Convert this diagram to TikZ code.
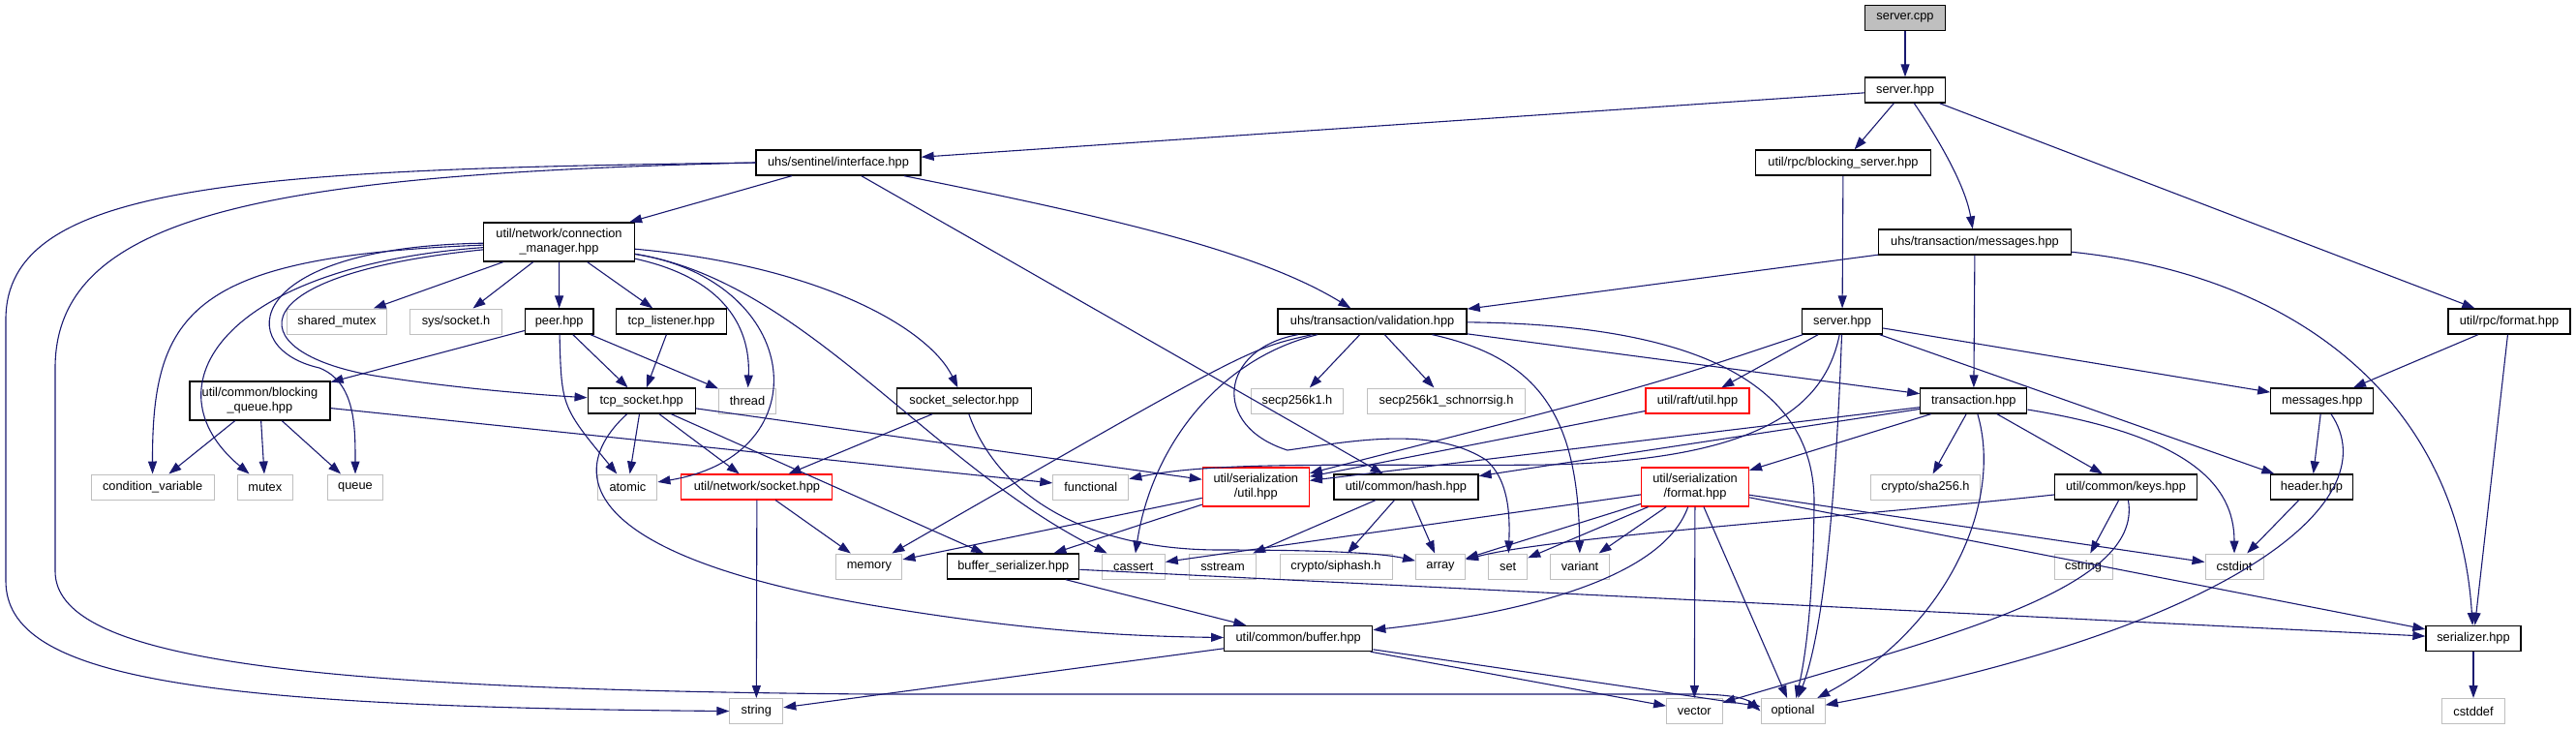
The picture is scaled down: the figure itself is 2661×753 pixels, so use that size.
\documentclass[tikz,border=0pt]{standalone}
\usepackage{fontspec}
\setmainfont{Liberation Sans}
\usepackage{xcolor}
\usetikzlibrary{calc,arrows.meta,positioning}
\definecolor{edgeBlue}{RGB}{25,25,112}
\definecolor{boxGray}{RGB}{191,191,191}
\definecolor{boxRed}{RGB}{255,0,0}
\tikzset{
  incNode/.style={draw=black,fill=white,line width=1.3pt,minimum height=26,inner sep=0pt,align=center,font=\fontsize{12.8}{15}\selectfont},
  sysNode/.style={incNode,draw=boxGray,line width=1pt},
  cutNode/.style={incNode,draw=boxRed,line width=1.1pt},
  rootNode/.style={incNode,fill=boxGray},
  twoLine/.style={minimum height=40},
  dep/.style={draw=edgeBlue,line width=1.1pt,-{Triangle[length=13pt,width=9pt]}}
}

\begin{document}
\begin{tikzpicture}[x=1pt,y=-1pt]
\useasboundingbox (0,0) rectangle (2661,753);

\node[rootNode,minimum width=83] (servercpp) at (1968,18.7) {server.cpp};
\node[incNode,minimum width=83] (serverhpp) at (1968,93) {server.hpp};
\node[incNode,minimum width=170] (iface) at (866,168) {uhs/sentinel/interface.hpp};
\node[incNode,minimum width=181] (rpcblock) at (1904,168) {util/rpc/blocking\_server.hpp};
\node[incNode,twoLine,minimum width=156] (connmgr) at (577.5,250) {util/network/connection\\\_manager.hpp};
\node[incNode,minimum width=199] (txmsg) at (2040,250) {uhs/transaction/messages.hpp};

\node[sysNode,minimum width=103] (sharedmtx) at (348,332) {shared\_mutex};
\node[sysNode,minimum width=95] (syssocket) at (471,332) {sys/socket.h};
\node[incNode,minimum width=70.5] (peer) at (577.7,332) {peer.hpp};
\node[incNode,minimum width=114] (tcplistener) at (693.5,332) {tcp\_listener.hpp};
\node[incNode,minimum width=195] (validation) at (1417.6,332) {uhs/transaction/validation.hpp};
\node[incNode,minimum width=83] (server2) at (1903,332) {server.hpp};
\node[incNode,minimum width=126] (rpcfmt) at (2592,332) {util/rpc/format.hpp};

\node[incNode,twoLine,minimum width=145] (blockqueue) at (268.4,414) {util/common/blocking\\\_queue.hpp};
\node[incNode,minimum width=111] (tcpsocket) at (662.7,414) {tcp\_socket.hpp};
\node[sysNode,minimum width=58.6] (thread) at (772,414) {thread};
\node[incNode,minimum width=139] (sockselector) at (996,414) {socket\_selector.hpp};
\node[sysNode,minimum width=95] (secp) at (1340,414) {secp256k1.h};
\node[sysNode,minimum width=162.5] (schnorr) at (1494,414) {secp256k1\_schnorrsig.h};
\node[cutNode,minimum width=107] (raft) at (1753.5,414) {util/raft/util.hpp};
\node[incNode,minimum width=110] (transaction) at (2038.8,414) {transaction.hpp};
\node[incNode,minimum width=106] (messages) at (2398.8,414) {messages.hpp};

\node[sysNode,minimum width=127] (condvar) at (157.6,503) {condition\_variable};
\node[sysNode,minimum width=57.5] (mutex) at (273.8,503) {mutex};
\node[sysNode,minimum width=57] (queue) at (367,503) {queue};
\node[sysNode,minimum width=61] (atomic) at (648.4,503) {atomic};
\node[cutNode,minimum width=156] (netsocket) at (781.9,503) {util/network/socket.hpp};
\node[sysNode,minimum width=78] (functional) at (1126.8,503) {functional};
\node[cutNode,twoLine,minimum width=110] (serutil) at (1297.3,503) {util/serialization\\/util.hpp};
\node[incNode,minimum width=149] (hash) at (1452.4,503) {util/common/hash.hpp};
\node[cutNode,twoLine,minimum width=111] (serfmt) at (1751,503) {util/serialization\\/format.hpp};
\node[sysNode,minimum width=113] (sha256) at (1989,503) {crypto/sha256.h};
\node[incNode,minimum width=147] (keys) at (2196,503) {util/common/keys.hpp};
\node[incNode,minimum width=85] (header) at (2388,503) {header.hpp};

\node[sysNode,minimum width=68] (memory) at (897.9,585) {memory};
\node[incNode,minimum width=136] (bufser) at (1046.8,585) {buffer\_serializer.hpp};
\node[sysNode,minimum width=65] (cassert) at (1170.8,585) {cassert};
\node[sysNode,minimum width=69] (sstream) at (1263,585) {sstream};
\node[sysNode,minimum width=116] (siphash) at (1380,585) {crypto/siphash.h};
\node[sysNode,minimum width=51] (array) at (1488,585) {array};
\node[sysNode,minimum width=40] (set) at (1557.7,585) {set};
\node[sysNode,minimum width=61] (variant) at (1632,585) {variant};
\node[sysNode,minimum width=60] (cstring) at (2152,585) {cstring};
\node[sysNode,minimum width=60] (cstdint) at (2308,585) {cstdint};

\node[incNode,minimum width=153] (buffer) at (1341.2,659.5) {util/common/buffer.hpp};
\node[incNode,minimum width=98] (serializer) at (2555,659.5) {serializer.hpp};

\node[sysNode,minimum width=55] (string) at (781.3,734.5) {string};
\node[sysNode,minimum width=57.4] (vector) at (1750.3,734.5) {vector};
\node[sysNode,minimum width=66] (optional) at (1852,734.5) {optional};
\node[sysNode,minimum width=65.6] (cstddef) at (2555,734.5) {cstddef};

\draw[dep] (servercpp) -- (serverhpp);
\draw[dep] (serverhpp) -- (iface);
\draw[dep] (serverhpp) -- (rpcblock);
\draw[dep] (serverhpp) .. controls (2000,140) and (2030,190) .. (txmsg);
\draw[dep] (serverhpp) -- (rpcfmt);

\draw[dep] (iface) -- (connmgr);
\draw[dep] (iface) .. controls (1150,225) and (1300,260) .. (validation);
\draw[dep] (iface) -- (hash);
\draw[dep] (iface.west) .. controls (250,175) and (6,190) .. (6,330) -- (6,600) .. controls (6,700) and (200,730) .. (string.west);
\draw[dep] (iface.west) .. controls (280,180) and (57,220) .. (57,380) -- (57,590) .. controls (57,680) and (300,712) .. (900,717) -- (1750,717) .. controls (1790,717) and (1805,722) .. (optional.west);

\draw[dep] (rpcblock) -- (server2);
\draw[dep] (txmsg) -- (validation);
\draw[dep] (txmsg) -- (transaction);
\draw[dep] (txmsg) .. controls (2380,285) and (2540,420) .. (serializer);
\draw[dep] (rpcfmt) -- (messages);
\draw[dep] (rpcfmt) -- (serializer);

\draw[dep] (connmgr) -- (sharedmtx);
\draw[dep] (connmgr) -- (syssocket);
\draw[dep] (connmgr) -- (peer);
\draw[dep] (connmgr) -- (tcplistener);
\draw[dep] (connmgr) .. controls (760,290) and (775,350) .. (thread);
\draw[dep] (connmgr) .. controls (830,290) and (850,470) .. (atomic);
\draw[dep] (connmgr) .. controls (200,265) and (157,320) .. (condvar);
\draw[dep] (connmgr) .. controls (230,275) and (150,400) .. (mutex);
\draw[dep] (connmgr) .. controls (250,255) and (240,360) .. (330,380) .. controls (367,395) and (367,440) .. (queue);
\draw[dep] (connmgr) .. controls (230,285) and (250,370) .. (400,390) .. controls (480,402) and (560,408) .. (tcpsocket);
\draw[dep] (connmgr) .. controls (850,275) and (960,340) .. (sockselector);
\draw[dep] (connmgr) .. controls (830,290) and (960,480) .. (cassert);

\draw[dep] (peer) -- (blockqueue);
\draw[dep] (peer) -- (tcpsocket);
\draw[dep] (peer) -- (thread);
\draw[dep] (peer) .. controls (580,420) .. (atomic);
\draw[dep] (tcplistener) -- (tcpsocket);

\draw[dep] (blockqueue) -- (condvar);
\draw[dep] (blockqueue) -- (mutex);
\draw[dep] (blockqueue) -- (queue);
\draw[dep] (blockqueue) -- (functional);

\draw[dep] (tcpsocket) -- (atomic);
\draw[dep] (tcpsocket) -- (netsocket);
\draw[dep] (tcpsocket) -- (serutil);
\draw[dep] (tcpsocket) -- (bufser);
\draw[dep] (tcpsocket) .. controls (590,480) and (580,570) .. (900,625) .. controls (1050,650) and (1150,657) .. (buffer);

\draw[dep] (sockselector) -- (netsocket);
\draw[dep] (sockselector) .. controls (1030,510) and (1120,568) .. (1260,568) .. controls (1380,568) and (1430,572) .. (array);
\draw[dep] (netsocket) -- (memory);
\draw[dep] (netsocket) -- (string);

\draw[dep] (validation) -- (secp);
\draw[dep] (validation) -- (schnorr);
\draw[dep] (validation) .. controls (1290,360) .. (memory);
\draw[dep] (validation) .. controls (1260,370) and (1190,460) .. (cassert);
\draw[dep] (validation) .. controls (1260,360) and (1250,440) .. (1330,465) .. controls (1400,455) and (1480,440) .. (1535,475) .. controls (1558,495) and (1560,530) .. (set);
\draw[dep] (validation) .. controls (1590,370) and (1630,430) .. (variant);
\draw[dep] (validation) .. controls (1760,335) and (1875,400) .. (1874,520) .. controls (1873,620) and (1865,680) .. (optional);
\draw[dep] (validation) -- (transaction);

\draw[dep] (server2) -- (raft);
\draw[dep] (server2) .. controls (1700,400) .. (serutil);
\draw[dep] (server2) .. controls (1885,420) and (1820,475) .. (1600,480) .. controls (1420,482) and (1260,475) .. (functional);
\draw[dep] (server2) .. controls (1897,500) and (1885,650) .. (optional);
\draw[dep] (server2) -- (messages);
\draw[dep] (server2) -- (header);
\draw[dep] (raft) -- (serutil);

\draw[dep] (transaction) -- (serutil);
\draw[dep] (transaction) -- (hash);
\draw[dep] (transaction) -- (serfmt);
\draw[dep] (transaction) -- (sha256);
\draw[dep] (transaction) -- (keys);
\draw[dep] (transaction) .. controls (2260,450) and (2308,500) .. (cstdint);
\draw[dep] (transaction) .. controls (2070,520) and (2010,650) .. (optional);

\draw[dep] (serutil) -- (memory);
\draw[dep] (serutil) -- (bufser);
\draw[dep] (hash) -- (sstream);
\draw[dep] (hash) -- (siphash);
\draw[dep] (hash) -- (array);

\draw[dep] (serfmt) -- (cassert);
\draw[dep] (serfmt) -- (array);
\draw[dep] (serfmt) -- (set);
\draw[dep] (serfmt) -- (variant);
\draw[dep] (serfmt) .. controls (1720,590) and (1600,630) .. (buffer);
\draw[dep] (serfmt) -- (vector);
\draw[dep] (serfmt) -- (optional);
\draw[dep] (serfmt) -- (cstdint);
\draw[dep] (serfmt) -- (serializer);

\draw[dep] (keys) -- (cstring);
\draw[dep] (keys) .. controls (2215,610) and (2000,660) .. (vector);
\draw[dep] (keys) .. controls (1900,535) and (1600,555) .. (array);
\draw[dep] (messages) -- (header);
\draw[dep] (messages) .. controls (2470,520) and (2300,650) .. (optional);
\draw[dep] (header) -- (cstdint);

\draw[dep] (bufser) -- (buffer);
\draw[dep] (bufser) -- (serializer);
\draw[dep] (buffer) -- (string);
\draw[dep] (buffer) -- (vector);
\draw[dep] (buffer) -- (optional);
\draw[dep] (serializer) -- (cstddef);

\end{tikzpicture}
\end{document}
